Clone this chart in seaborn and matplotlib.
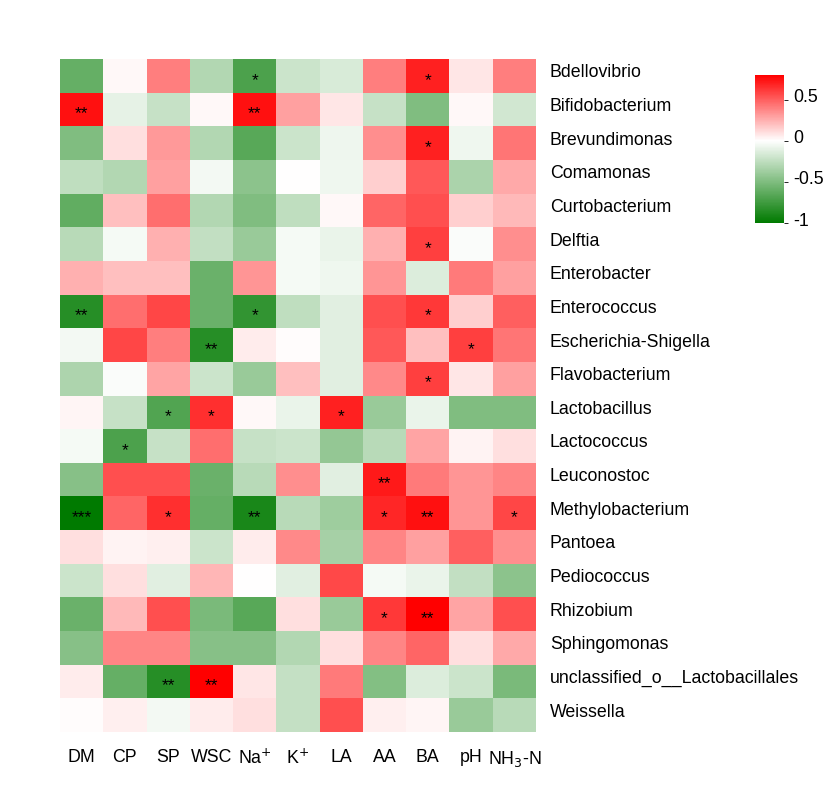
import numpy as np
import pandas as pd
import matplotlib
matplotlib.use("Agg")
import matplotlib.pyplot as plt
import seaborn as sns
from matplotlib.colors import LinearSegmentedColormap
from matplotlib.transforms import ScaledTranslation

# --- data ---
genera = ["Bdellovibrio", "Bifidobacterium", "Brevundimonas", "Comamonas", "Curtobacterium",
          "Delftia", "Enterobacter", "Enterococcus", "Escherichia-Shigella", "Flavobacterium",
          "Lactobacillus", "Lactococcus", "Leuconostoc", "Methylobacterium", "Pantoea",
          "Pediococcus", "Rhizobium", "Sphingomonas", "unclassified_o__Lactobacillales", "Weissella"]
factors = ["DM", "CP", "SP", "WSC", "Na$^{+}$", "K$^{+}$", "LA", "AA", "BA", "pH", "NH$_3$-N"]

corr_values = [
    [-0.60, 0.02, 0.40, -0.30, -0.70, -0.20, -0.15, 0.40, 0.70, 0.08, 0.40],
    [0.75, -0.10, -0.22, 0.02, 0.75, 0.30, 0.08, -0.22, -0.50, 0.02, -0.18],
    [-0.50, 0.10, 0.32, -0.30, -0.65, -0.20, -0.07, 0.35, 0.70, -0.06, 0.43],
    [-0.25, -0.30, 0.30, -0.05, -0.45, 0.00, -0.06, 0.15, 0.52, -0.33, 0.27],
    [-0.62, 0.20, 0.45, -0.30, -0.50, -0.25, 0.02, 0.48, 0.55, 0.15, 0.22],
    [-0.28, -0.04, 0.25, -0.24, -0.40, -0.04, -0.08, 0.25, 0.60, -0.02, 0.35],
    [0.25, 0.20, 0.20, -0.58, 0.33, -0.04, -0.06, 0.33, -0.14, 0.42, 0.30],
    [-0.85, 0.45, 0.58, -0.58, -0.80, -0.25, -0.12, 0.55, 0.62, 0.15, 0.50],
    [-0.05, 0.58, 0.40, -0.85, 0.06, 0.01, -0.12, 0.52, 0.20, 0.60, 0.43],
    [-0.32, -0.02, 0.28, -0.20, -0.40, 0.20, -0.12, 0.37, 0.60, 0.08, 0.30],
    [0.03, -0.22, -0.68, 0.65, 0.02, -0.08, 0.70, -0.40, -0.08, -0.50, -0.50],
    [-0.04, -0.70, -0.22, 0.45, -0.22, -0.20, -0.42, -0.28, 0.28, 0.04, 0.10],
    [-0.47, 0.55, 0.55, -0.58, -0.28, 0.35, -0.12, 0.72, 0.42, 0.33, 0.38],
    [-1.00, 0.48, 0.65, -0.60, -0.90, -0.28, -0.38, 0.68, 0.75, 0.33, 0.58],
    [0.10, 0.04, 0.05, -0.20, 0.06, 0.37, -0.35, 0.38, 0.30, 0.50, 0.35],
    [-0.20, 0.10, -0.12, 0.23, 0.00, -0.12, 0.57, -0.04, -0.08, -0.24, -0.45],
    [-0.58, 0.22, 0.55, -0.52, -0.65, 0.10, -0.40, 0.62, 0.80, 0.28, 0.55],
    [-0.47, 0.38, 0.38, -0.47, -0.47, -0.30, 0.10, 0.38, 0.48, 0.10, 0.27],
    [0.06, -0.60, -0.85, 0.80, 0.08, -0.23, 0.42, -0.48, -0.14, -0.20, -0.52],
    [0.01, 0.05, -0.05, 0.06, 0.10, -0.23, 0.55, 0.05, 0.03, -0.40, -0.28],
]

stars = [
    ["", "", "", "", "*", "", "", "", "*", "", ""],
    ["**", "", "", "", "**", "", "", "", "", "", ""],
    ["", "", "", "", "", "", "", "", "*", "", ""],
    ["", "", "", "", "", "", "", "", "", "", ""],
    ["", "", "", "", "", "", "", "", "", "", ""],
    ["", "", "", "", "", "", "", "", "*", "", ""],
    ["", "", "", "", "", "", "", "", "", "", ""],
    ["**", "", "", "", "*", "", "", "", "*", "", ""],
    ["", "", "", "**", "", "", "", "", "", "*", ""],
    ["", "", "", "", "", "", "", "", "*", "", ""],
    ["", "", "*", "*", "", "", "*", "", "", "", ""],
    ["", "*", "", "", "", "", "", "", "", "", ""],
    ["", "", "", "", "", "", "", "**", "", "", ""],
    ["***", "", "*", "", "**", "", "", "*", "**", "", "*"],
    ["", "", "", "", "", "", "", "", "", "", ""],
    ["", "", "", "", "", "", "", "", "", "", ""],
    ["", "", "", "", "", "", "", "*", "**", "", ""],
    ["", "", "", "", "", "", "", "", "", "", ""],
    ["", "", "**", "**", "", "", "", "", "", "", ""],
    ["", "", "", "", "", "", "", "", "", "", ""],
]

df = pd.DataFrame(corr_values, index=genera, columns=factors)

plt.rcParams['font.family'] = ['Liberation Sans', 'DejaVu Sans']

# green -> white -> red, white at 0
vmin, vmax = -1.0, 0.8
cmap = LinearSegmentedColormap.from_list(
    "gwr", [(0.0, "#007a00"), (-vmin / (vmax - vmin), "#ffffff"), (1.0, "#ff0000")])

fig = plt.figure(figsize=(8.29, 7.95), dpi=100)
ax = fig.add_axes([60 / 829, 1 - 732 / 795, (536 - 60) / 829, (732 - 59) / 795])
cax = fig.add_axes([755 / 829, 1 - 223 / 795, 29 / 829, (223 - 75) / 795])

sns.heatmap(df, ax=ax, cbar_ax=cax, cmap=cmap, vmin=vmin, vmax=vmax,
            annot=np.array(stars), fmt="", linewidths=0,
            annot_kws={"color": "black", "fontsize": 12.5, "va": "center"})

# asterisks sit high in the glyph box; nudge them to the cell centre
for t in ax.texts:
    x, y = t.get_position()
    t.set_position((x, y + 0.13))

ax.yaxis.tick_right()
ax.set_yticklabels(genera, rotation=0, fontsize=12.8)
ax.set_xticklabels(factors, rotation=0, fontsize=12.8)
ax.tick_params(axis="both", length=0)
ax.tick_params(axis="y", pad=10)
ax.tick_params(axis="x", pad=12)
ax.set_xlabel("")
ax.set_ylabel("")

# row labels sit a little above the row centres in the original
up = ScaledTranslation(0, 5 / 100, fig.dpi_scale_trans)
for lbl in ax.get_yticklabels():
    lbl.set_transform(lbl.get_transform() + up)

cbar = ax.collections[0].colorbar
cbar.set_ticks([0.5, 0, -0.5, -1])
cbar.set_ticklabels(["0.5", "0", "-0.5", "-1"])
cbar.ax.tick_params(labelsize=12.8, length=3, width=0.6)
cbar.outline.set_visible(False)
up_cb = ScaledTranslation(0, 4 / 100, fig.dpi_scale_trans)
for lbl in cbar.ax.get_yticklabels():
    lbl.set_transform(lbl.get_transform() + up_cb)

fig.savefig("out.png", dpi=100)
